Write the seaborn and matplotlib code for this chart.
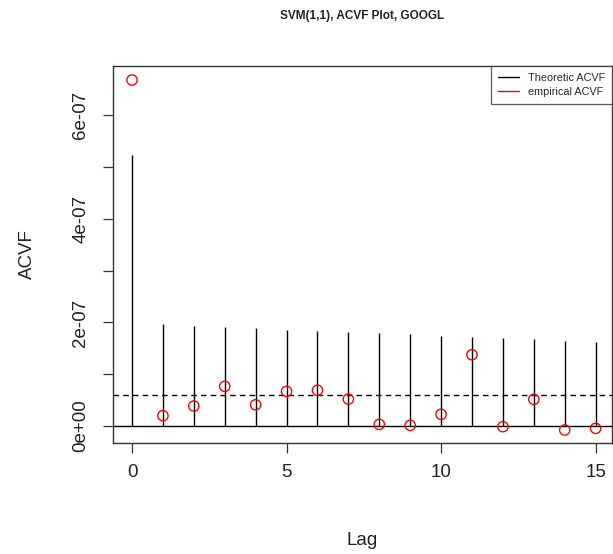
import matplotlib
matplotlib.use("Agg")
import matplotlib.pyplot as plt
import seaborn as sns
import pandas as pd
from matplotlib.lines import Line2D

lags = list(range(16))
theoretic_acvf = [5.23e-07, 1.96e-07, 1.94e-07, 1.92e-07, 1.89e-07, 1.86e-07, 1.83e-07,
                  1.81e-07, 1.79e-07, 1.77e-07, 1.74e-07, 1.72e-07, 1.70e-07, 1.68e-07,
                  1.65e-07, 1.63e-07]
empirical_acvf = [6.68e-07, 0.20e-07, 0.386e-07, 0.766e-07, 0.41e-07, 0.67e-07, 0.69e-07,
                  0.52e-07, 0.032e-07, 0.013e-07, 0.226e-07, 1.376e-07, -0.013e-07, 0.515e-07,
                  -0.077e-07, -0.045e-07]
mean_level = 0.59e-07
y_tick_values = [0, 1e-07, 2e-07, 3e-07, 4e-07, 5e-07, 6e-07]
y_tick_labels = ["0e+00", "", "2e-07", "", "4e-07", "", "6e-07"]
x_tick_values = [0, 5, 10, 15]
title = "SVM(1,1), ACVF Plot, GOOGL"
legend_labels = ["Theoretic ACVF", "empirical ACVF"]

sns.set_style("white")
plt.rcParams['font.family'] = ['Liberation Sans', 'DejaVu Sans']

df = pd.DataFrame({"lag": lags, "theo": theoretic_acvf, "emp": empirical_acvf})

fig = plt.figure(figsize=(6.13, 5.54), dpi=100)
ax = fig.add_axes([113/613, 1 - 443/554, (612 - 113)/613, (443 - 66)/554])

ax.vlines(df["lag"], 0, df["theo"], colors="black", linewidth=1.0)
ax.axhline(0, color="black", linewidth=1.0)
ax.axhline(mean_level, color="black", linewidth=1.0, linestyle=(0, (4, 3)))
sns.scatterplot(data=df, x="lag", y="emp", ax=ax, marker="o", s=55,
                facecolors="none", edgecolor="red", linewidth=1.0, legend=False, zorder=3)

ax.set_xlim(-0.615, 15.53)
ax.set_ylim(-0.328e-07, 6.95e-07)

ax.set_xticks(x_tick_values)
ax.set_xticklabels([str(v) for v in x_tick_values])
ax.set_yticks(y_tick_values)
ax.set_yticklabels(y_tick_labels, rotation=90, va="center")
ax.tick_params(axis="both", direction="out", length=7, width=0.9, colors="#333333",
               labelsize=13.5, labelcolor="#222222", left=True, bottom=True)
ax.tick_params(axis="x", pad=8)
ax.tick_params(axis="y", pad=10)

for sp in ax.spines.values():
    sp.set_visible(True)
    sp.set_color("#333333")
    sp.set_linewidth(1.0)

ax.set_xlabel("Lag", fontsize=13.5, labelpad=37, color="#222222")
ax.set_ylabel("ACVF", fontsize=13.5, labelpad=26, color="#222222")

fig.text((113 + 612) / 2 / 613, 1 - 16 / 554, title, ha="center", va="center",
         fontsize=8.5, fontweight="bold", color="#222222")

handles = [Line2D([0], [0], color="black", lw=1.0),
           Line2D([0], [0], color="red", lw=1.0)]
leg = ax.legend(handles, legend_labels, loc="upper right", fontsize=7.8,
                frameon=True, fancybox=False, borderaxespad=0.0,
                handlelength=1.9, handletextpad=0.8, labelspacing=0.35, borderpad=0.65)
leg.get_frame().set_edgecolor("#333333")
leg.get_frame().set_linewidth(0.9)

fig.savefig("out.png", dpi=100)
